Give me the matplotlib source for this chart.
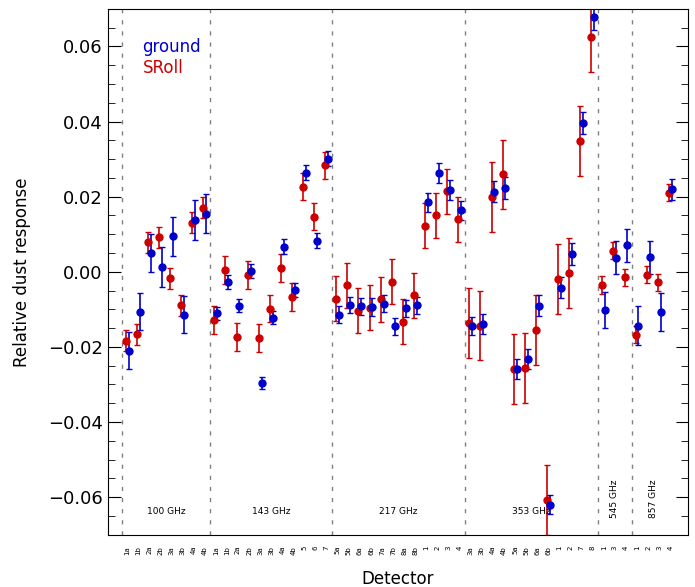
import numpy as np
import matplotlib
matplotlib.use("Agg")
import matplotlib.pyplot as plt
from matplotlib.ticker import MultipleLocator

# detector names per frequency band
bands = ["100 GHz", "143 GHz", "217 GHz", "353 GHz", "545 GHz", "857 GHz"]
det_100 = ["1a", "1b", "2a", "2b", "3a", "3b", "4a", "4b"]
det_143 = ["1a", "1b", "2a", "2b", "3a", "3b", "4a", "4b", "5", "6", "7"]
det_217 = ["5a", "5b", "6a", "6b", "7a", "7b", "8a", "8b", "1", "2", "3", "4"]
det_353 = ["3a", "3b", "4a", "4b", "5a", "5b", "6a", "6b", "1", "2", "7", "8"]
det_545 = ["1", "3", "4"]
det_857 = ["1", "2", "3", "4"]
groups = [det_100, det_143, det_217, det_353, det_545, det_857]
labels = sum(groups, [])

# ground-based response and error
ground = [-0.0210, -0.0106, 0.0050, 0.0012, 0.0095, -0.0114, 0.0137, 0.0155,
          -0.0111, -0.0028, -0.0090, 0.0003, -0.0296, -0.0122, 0.0066, -0.0049, 0.0264, 0.0082, 0.0301,
          -0.0114, -0.0088, -0.0092, -0.0094, -0.0085, -0.0145, -0.0097, -0.0089, 0.0185, 0.0263, 0.0218, 0.0164,
          -0.0144, -0.0139, 0.0213, 0.0223, -0.0259, -0.0232, -0.0091, -0.0620, -0.0042, 0.0047, 0.0396, 0.0678,
          -0.0102, 0.0038, 0.0070,
          -0.0144, 0.0039, -0.0107, 0.0220]
ground_err = [0.0050, 0.0049, 0.0051, 0.0053, 0.0052, 0.0050, 0.0053, 0.0052,
              0.0017, 0.0019, 0.0018, 0.0019, 0.0017, 0.0018, 0.0020, 0.0019, 0.0020, 0.0020, 0.0020,
              0.0022, 0.0022, 0.0023, 0.0023, 0.0023, 0.0022, 0.0023, 0.0023, 0.0026, 0.0026, 0.0026, 0.0025,
              0.0024, 0.0027, 0.0028, 0.0029, 0.0027, 0.0027, 0.0028, 0.0025, 0.0028, 0.0029, 0.0030, 0.0035,
              0.0048, 0.0044, 0.0043,
              0.0052, 0.0044, 0.0050, 0.0028]

# SRoll response and error
sroll = [-0.0184, -0.0166, 0.0079, 0.0092, -0.0017, -0.0089, 0.0130, 0.0171,
         -0.0128, 0.0004, -0.0174, -0.0008, -0.0176, -0.0098, 0.0009, -0.0067, 0.0227, 0.0147, 0.0283,
         -0.0072, -0.0036, -0.0104, -0.0096, -0.0073, -0.0026, -0.0133, -0.0062, 0.0123, 0.0150, 0.0214, 0.0140,
         -0.0137, -0.0143, 0.0199, 0.0259, -0.0259, -0.0256, -0.0154, -0.0608, -0.0020, -0.0004, 0.0348, 0.0625,
         -0.0035, 0.0056, -0.0015,
         -0.0167, -0.0008, -0.0028, 0.0211]
sroll_err = [0.0028] * 8 + [0.0037] * 11 + [0.0060] * 12 + [0.0093] * 12 + [0.0023] * 3 + [0.0023] * 4

blue = "#0000cc"
red = "#cc0000"

x = np.arange(len(labels))
bounds = np.cumsum([0] + [len(g) for g in groups]) - 0.5

fig = plt.figure(figsize=(6.95, 5.87), dpi=100)
ax = fig.add_axes([0.155, 0.089, 0.835, 0.896])

# dashed band separators
for b in bounds[:-1]:
    ax.axvline(b, color="gray", ls=(0, (3, 5)), lw=1.0, zorder=0)

ax.errorbar(x - 0.13, sroll, yerr=sroll_err, fmt="o", color=red, ms=5,
            capsize=2.5, elinewidth=1.2, capthick=1.0)
ax.errorbar(x + 0.13, ground, yerr=ground_err, fmt="o", color=blue, ms=5,
            capsize=2.5, elinewidth=1.2, capthick=1.0)

# band names
for i, name in enumerate(bands):
    mid = (bounds[i] + bounds[i + 1]) / 2
    if len(groups[i]) > 4:
        ax.text(mid, -0.0637, name, ha="center", va="center", fontsize=6.5)
    else:
        ax.text(mid, -0.0605, name, ha="center", va="center", fontsize=6.5, rotation=90)

ax.text(0.06, 0.918, "ground", color=blue, fontsize=12, transform=ax.transAxes)
ax.text(0.06, 0.878, "SRoll", color=red, fontsize=12, transform=ax.transAxes)

ax.set_xlim(-1.75, 50.6)
ax.set_ylim(-0.07, 0.07)
ax.set_xticks(x)
ax.set_xticklabels(labels, rotation=90, fontsize=5)
ax.tick_params(axis="x", length=0, pad=8)
ax.yaxis.set_major_locator(MultipleLocator(0.02))
ax.yaxis.set_minor_locator(MultipleLocator(0.005))
ax.tick_params(axis="y", which="major", direction="in", length=9, right=True, labelsize=13)
ax.tick_params(axis="y", which="minor", direction="in", length=5, right=True)
ax.set_xlabel("Detector", fontsize=12, labelpad=11)
ax.set_ylabel("Relative dust response", fontsize=12, labelpad=12)

fig.savefig("out.png", dpi=100)
